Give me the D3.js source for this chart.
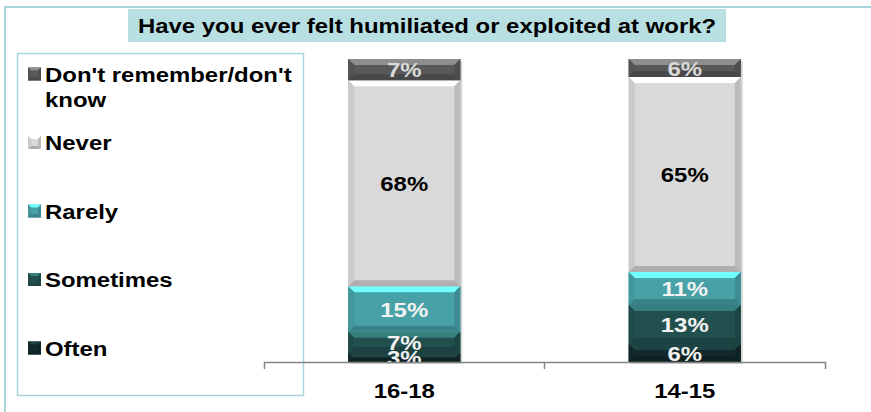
<!DOCTYPE html>
<html>
<head>
<meta charset="utf-8">
<script src="https://cdn.jsdelivr.net/npm/d3@7"></script>
<style>
  body { margin: 0; background: #fff; }
  svg { display: block; }
  text { font-family: Arial, 'Liberation Sans', sans-serif; font-weight: bold; }
</style>
</head>
<body>
<svg width="871" height="412"></svg>
<script>
'use strict'

// data
const ageGroups = ['16-18', '14-15']
const answers = ['Often', 'Sometimes', 'Rarely', 'Never', "Don't remember/don't know"]
const often = [3, 6]
const sometimes = [7, 13]
const rarely = [15, 11]
const never = [68, 65]
const dontKnow = [7, 6]

const answerColors = ['#132a2b', '#22504f', '#47a1a7', '#d9d9d9', '#595959']
const labelColors = ['#f2f2f2', '#f2f2f2', '#f2f2f2', '#000000', '#d9d9d9']

const svg = d3.select('body svg')
const stretch = 1.14
const fontSize = '21px'
const place = (x, y) => `translate(${x},${y}) scale(${stretch},1)`

const rows = ageGroups.map((group, i) => ({
  group: group,
  [answers[0]]: often[i],
  [answers[1]]: sometimes[i],
  [answers[2]]: rarely[i],
  [answers[3]]: never[i],
  [answers[4]]: dontKnow[i]
}))

const series = d3.stack().keys(answers).offset(d3.stackOffsetExpand)(rows)

const plotTop = 59
const plotBottom = 362
const xScale = d3.scaleBand().domain(ageGroups).range([264, 825])
  .paddingInner(0.6).paddingOuter(0.3)
const yScale = d3.scaleLinear().domain([0, 1]).range([plotBottom, plotTop])
const color = d3.scaleOrdinal().domain(answers).range(answerColors)
const labelColor = d3.scaleOrdinal().domain(answers).range(labelColors)

// frame
svg.append('path')
  .attr('d', 'M5,412V7H871')
  .style('fill', 'none')
  .style('stroke', '#a6d6d9')
  .style('stroke-width', '2')

// title
svg.append('rect')
  .attr('x', 128).attr('y', 9).attr('width', 598).attr('height', 33)
  .style('fill', '#b8dfe2')
svg.append('text')
  .attr('transform', place(427, 33))
  .attr('text-anchor', 'middle')
  .style('font-size', fontSize)
  .text('Have you ever felt humiliated or exploited at work?')

// legend box
svg.append('rect')
  .attr('x', 17.5).attr('y', 53.5).attr('width', 286).attr('height', 342)
  .style('fill', 'none')
  .style('stroke', '#a6d6d9')
  .style('stroke-width', '1.5')

// bevelled block, like the office 3d bars
const bevel = (g, x0, y0, x1, y1, fill, size) => {
  const b = Math.min(size, (y1 - y0) / 2, (x1 - x0) / 2)
  const c = d3.color(fill)
  g.append('rect')
    .attr('x', x0).attr('y', y0).attr('width', x1 - x0).attr('height', y1 - y0)
    .style('fill', fill)
  const faces = [
    [[x0, y0], [x1, y0], [x1 - b, y0 + b], [x0 + b, y0 + b], c.brighter(1.3)],
    [[x0, y1], [x1, y1], [x1 - b, y1 - b], [x0 + b, y1 - b], c.darker(0.6)],
    [[x0, y0], [x0 + b, y0 + b], [x0 + b, y1 - b], [x0, y1], c.darker(0.2)],
    [[x1, y0], [x1 - b, y0 + b], [x1 - b, y1 - b], [x1, y1], c.darker(0.4)]
  ]
  faces.forEach((f) => {
    g.append('polygon')
      .attr('points', f.slice(0, 4).map((p) => p.join(',')).join(' '))
      .style('fill', f[4].formatHex())
  })
}

// bars
const barsG = svg.append('g').classed('bars', true)
ageGroups.forEach((group) => {
  barsG.append('rect')
    .attr('x', xScale(group) + 2)
    .attr('y', plotTop + 2)
    .attr('width', xScale.bandwidth())
    .attr('height', plotBottom - plotTop)
    .style('fill', '#bdbdbd')
    .style('opacity', 0.6)
})
series.forEach((s) => {
  s.forEach((d) => {
    const x0 = xScale(d.data.group)
    bevel(barsG, x0, yScale(d[1]), x0 + xScale.bandwidth(), yScale(d[0]), color(s.key), 6)
  })
})

// value labels, clipped to the plot area
svg.append('clipPath').attr('id', 'plot')
  .append('rect')
  .attr('x', 250).attr('y', plotTop).attr('width', 600).attr('height', plotBottom - plotTop)
const labelsG = svg.append('g').attr('clip-path', 'url(#plot)')
series.forEach((s) => {
  labelsG.selectAll(null)
    .data(s)
    .enter()
    .append('text')
    .attr('transform', (d) => place(xScale(d.data.group) + xScale.bandwidth() / 2,
      (yScale(d[0]) + yScale(d[1])) / 2))
    .attr('dy', '0.36em')
    .attr('text-anchor', 'middle')
    .style('font-size', fontSize)
    .style('fill', labelColor(s.key))
    .text((d) => `${d.data[s.key]}%`)
})

// x axis
const xAxis = d3.axisBottom(xScale)
  .tickSizeInner(0)
  .tickSizeOuter(7)
  .tickPadding(21)
const axisG = svg.append('g').classed('xAxis', true)
  .attr('transform', `translate(0, ${plotBottom})`)
  .call(xAxis)
axisG.select('path.domain').style('stroke', '#868686').style('stroke-width', '1.5')
axisG.selectAll('g.tick text')
  .attr('transform', `scale(${stretch},1)`)
  .style('font-size', fontSize)
  .style('fill', '#000')
axisG.selectAll('line.split')
  .data(ageGroups.slice(1))
  .enter()
  .append('line').classed('split', true)
  .attr('x1', (d) => xScale(d) - xScale.step() * xScale.paddingInner() / 2)
  .attr('x2', (d) => xScale(d) - xScale.step() * xScale.paddingInner() / 2)
  .attr('y1', 0).attr('y2', 7)
  .style('stroke', '#868686')
  .style('stroke-width', '1.5')

// legend
const legendY = d3.scalePoint().domain(answers.slice().reverse()).range([74, 348])
const legend = svg.selectAll('g.legend')
  .data(answers.slice().reverse())
  .enter()
  .append('g').classed('legend', true)
legend.each(/* @this d3Element */ function(key) {
  const item = d3.select(this)
  const y = legendY(key)
  bevel(item, 28, y - 6.5, 41, y + 6.5, color(key), 3)
  const label = item.append('text')
    .attr('transform', place(45, y))
    .attr('dy', '0.36em')
    .style('font-size', fontSize)
  if (key === answers[4]) {
    label.append('tspan').attr('x', 0).text("Don't remember/don't")
    label.append('tspan').attr('x', 0).attr('dy', '1.2em').text('know')
  } else {
    label.text(key)
  }
})
</script>
</body>
</html>
